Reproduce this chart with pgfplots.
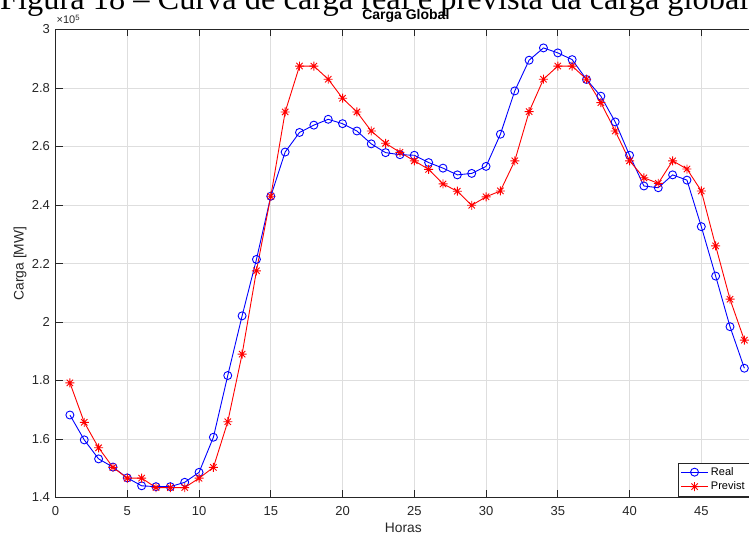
\documentclass[border=0pt]{standalone}
\usepackage{pgfplots}
\pgfplotsset{compat=1.18}
\usepackage{fontspec}
\setmainfont{Liberation Sans}
\newfontfamily\capfont{Liberation Serif}
\definecolor{axgray}{RGB}{38,38,38}
\definecolor{gridgray}{RGB}{222,222,222}
\definecolor{mblue}{RGB}{0,0,255}
\definecolor{mred}{RGB}{255,0,0}
\pgfdeclareplotmark{mstar}{%
  \pgfpathmoveto{\pgfqpoint{-\pgfplotmarksize}{0pt}}\pgfpathlineto{\pgfqpoint{\pgfplotmarksize}{0pt}}%
  \pgfpathmoveto{\pgfqpoint{0pt}{-\pgfplotmarksize}}\pgfpathlineto{\pgfqpoint{0pt}{\pgfplotmarksize}}%
  \pgfpathmoveto{\pgfqpoint{-.707\pgfplotmarksize}{-.707\pgfplotmarksize}}\pgfpathlineto{\pgfqpoint{.707\pgfplotmarksize}{.707\pgfplotmarksize}}%
  \pgfpathmoveto{\pgfqpoint{-.707\pgfplotmarksize}{.707\pgfplotmarksize}}\pgfpathlineto{\pgfqpoint{.707\pgfplotmarksize}{-.707\pgfplotmarksize}}%
  \pgfusepathqstroke}

\pgfplotstableread{
x y
1 1.682
2 1.597
3 1.532
4 1.504
5 1.467
6 1.440
7 1.437
8 1.437
9 1.452
10 1.486
11 1.606
12 1.817
13 2.021
14 2.214
15 2.430
16 2.581
17 2.648
18 2.673
19 2.693
20 2.678
21 2.653
22 2.609
23 2.579
24 2.572
25 2.570
26 2.545
27 2.526
28 2.503
29 2.508
30 2.532
31 2.642
32 2.790
33 2.895
34 2.937
35 2.920
36 2.897
37 2.829
38 2.772
39 2.684
40 2.570
41 2.465
42 2.459
43 2.503
44 2.485
45 2.326
46 2.157
47 1.984
48 1.842
}\real

\pgfplotstableread{
x y
1 1.792
2 1.657
3 1.570
4 1.503
5 1.466
6 1.466
7 1.434
8 1.434
9 1.434
10 1.466
11 1.503
12 1.659
13 1.890
14 2.175
15 2.430
16 2.718
17 2.875
18 2.875
19 2.830
20 2.765
21 2.718
22 2.653
23 2.611
24 2.580
25 2.551
26 2.522
27 2.472
28 2.447
29 2.399
30 2.428
31 2.448
32 2.551
33 2.719
34 2.830
35 2.875
36 2.875
37 2.830
38 2.750
39 2.653
40 2.551
41 2.493
42 2.474
43 2.551
44 2.523
45 2.448
46 2.260
47 2.078
48 1.938
}\prev

\begin{document}
\begin{tikzpicture}[x=1pt,y=1pt]
\node[anchor=base west, inner sep=0pt, font=\capfont\fontsize{32.4}{36}\selectfont] at (0,527) {Figura 18 – Curva de carga real e prevista da carga global};
\begin{axis}[
  at={(55.55pt,39.5pt)}, anchor=south west,
  scale only axis, width=703.15pt, height=468pt,
  xmin=0, xmax=49, ymin=1.4, ymax=3,
  xtick={0,5,10,15,20,25,30,35,40,45},
  ytick={1.4,1.6,1.8,2,2.2,2.4,2.6,2.8,3},
  yticklabels={1.4,1.6,1.8,2,2.2,2.4,2.6,2.8,3},
  grid=major, major grid style={gridgray, line width=0.7pt},
  axis line style={axgray, line width=0.7pt},
  tick style={axgray, line width=0.7pt}, tick align=inside, major tick length=7pt,
  /pgf/number format/assume math mode=true,
  ticklabel style={font=\fontsize{13}{15}\selectfont, text=axgray},
  xticklabel style={inner sep=0pt, anchor=north, yshift=-9pt},
  yticklabel style={inner sep=0pt, anchor=east, xshift=-5.5pt},
  title={\textbf{Carga Global}},
  every axis title/.style={at={(axis description cs:0.4982,1)}, anchor=base, inner sep=0pt, yshift=10pt, font=\fontsize{14}{16}\selectfont, text=black},
  xlabel={Horas}, ylabel={Carga [MW]},
  every axis x label/.style={at={(axis description cs:0.4946,0)}, anchor=base, inner sep=0pt, yshift=-35pt, font=\fontsize{13.8}{16}\selectfont, text=axgray},
  every axis y label/.style={at={(axis description cs:-0.0506,0.5)}, rotate=90, anchor=center, inner sep=0pt, font=\fontsize{13.8}{16}\selectfont, text=axgray},
  legend style={at={(axis description cs:0.8857,0.0744)}, anchor=north west, draw=axgray, line width=0.5pt, fill=white, font=\fontsize{11}{13}\selectfont, inner xsep=2pt, inner ysep=2pt, row sep=0pt, nodes={inner sep=2.5pt}},
  legend cell align=left,
  legend image code/.code={\draw[mark repeat=2,mark phase=2,#1] plot coordinates {(0pt,0pt) (13.5pt,0pt) (27pt,0pt)};},
]
\addplot[mblue, line width=0.9pt, mark=o, mark size=4pt, mark options={line width=0.9pt}] table[x=x,y=y] {\real};
\addlegendentry{Real}
\addplot[mred, line width=0.9pt, mark=mstar, mark size=4.5pt, mark options={line width=0.9pt}] table[x=x,y=y] {\prev};
\addlegendentry{Previst}
\end{axis}
\node[anchor=base west, inner sep=0pt, font=\fontsize{11}{13}\selectfont, text=axgray] at (56.5,513) {×10\textsuperscript{5}};
\pgfresetboundingbox
\useasboundingbox (0,0) rectangle (749,537);
\end{tikzpicture}
\end{document}
